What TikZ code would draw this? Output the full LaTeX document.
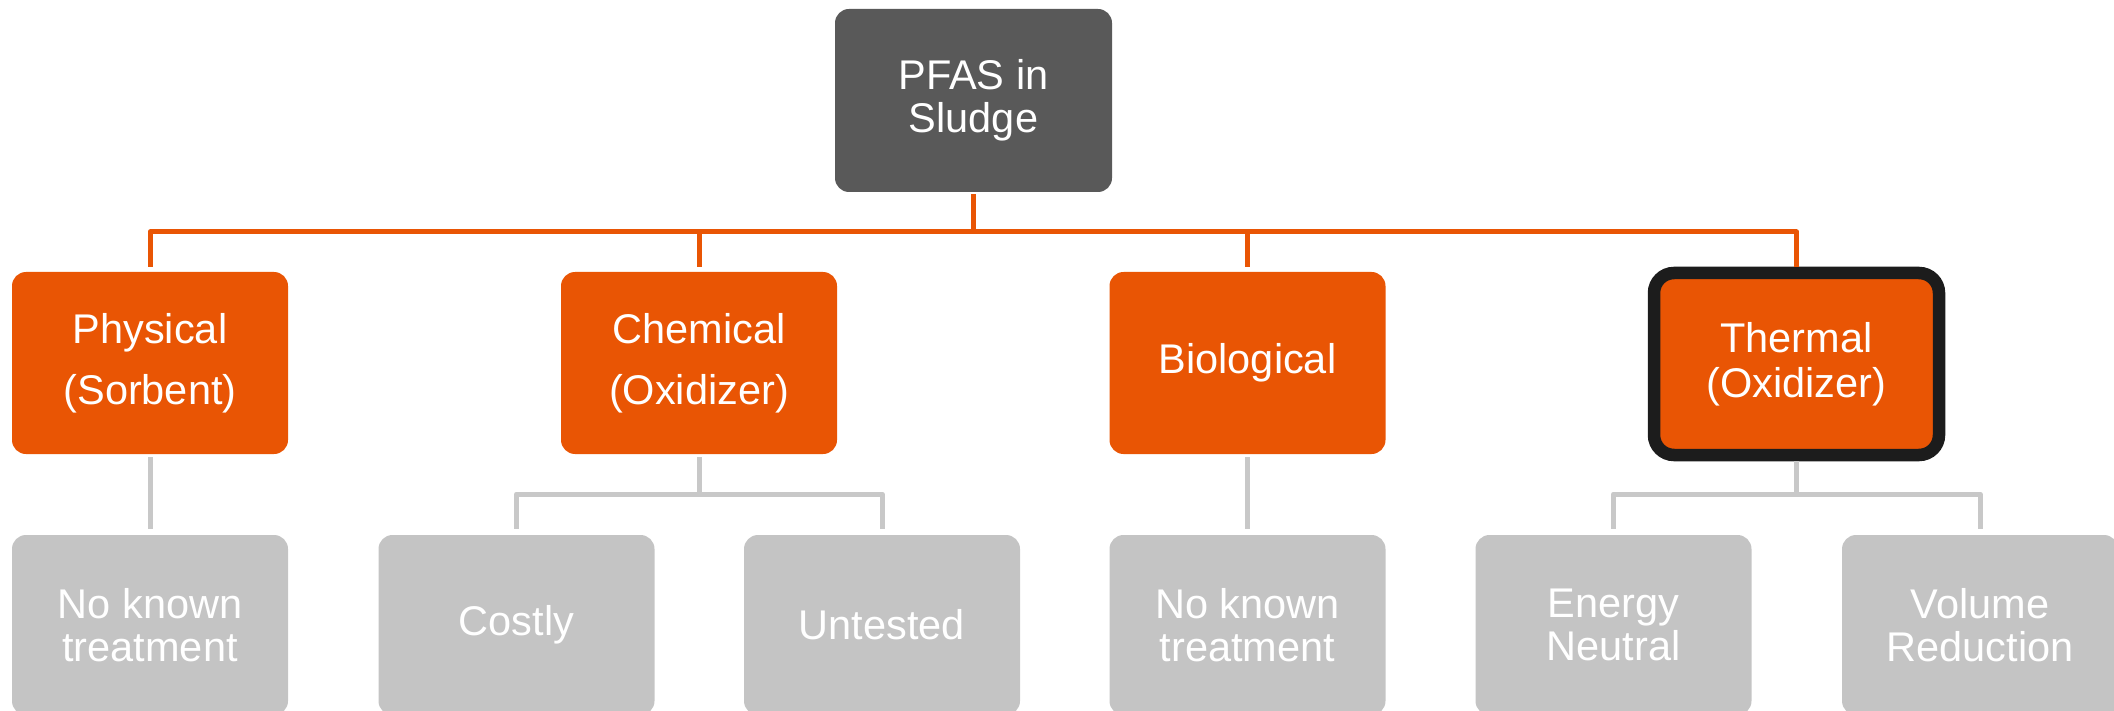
\documentclass[tikz,border=0pt]{standalone}
\usepackage{fontspec}
\setmainfont{Liberation Sans}
\definecolor{pfOrange}{HTML}{E95504}
\definecolor{pfDark}{HTML}{595959}
\definecolor{pfGrey}{HTML}{C4C4C4}
\definecolor{pfLine}{HTML}{C8C8C8}
\definecolor{pfBlack}{HTML}{1C1C1C}
\tikzset{
  basebox/.style={rectangle, rounded corners=14pt, inner sep=0pt, align=center,
    text=white, minimum width=276pt, minimum height=182pt},
  rootbox/.style={basebox, fill=pfDark, minimum width=277pt, minimum height=183pt,
    font=\fontsize{41.5}{43}\selectfont},
  obox/.style={basebox, fill=pfOrange, font=\fontsize{41.5}{61}\selectfont},
  tbox/.style={basebox, fill=pfOrange, draw=pfBlack, line width=12.5pt,
    rounded corners=20pt, minimum width=285pt, minimum height=182pt,
    font=\fontsize{41.5}{45}\selectfont},
  gbox/.style={basebox, fill=pfGrey, minimum height=180pt,
    font=\fontsize{41.5}{43}\selectfont},
  oline/.style={draw=pfOrange, line width=5pt, line join=round},
  gline/.style={draw=pfLine, line width=5pt, line join=round}
}
\begin{document}
\begin{tikzpicture}[x=1pt,y=-1pt]
\useasboundingbox (0,0) rectangle (2114,711);
% nodes
\node[rootbox] (root) at (973.5,100.5) {PFAS in\\Sludge};
\node[obox] (phys) at (150,363) {Physical\\(Sorbent)};
\node[obox] (chem) at (699,363) {Chemical\\(Oxidizer)};
\node[obox] (bio) at (1247.5,363) {Biological};
\node[tbox] (therm) at (1796.5,364) {Thermal\\(Oxidizer)};
\node[gbox] (nk1) at (150,625) {No known\\treatment};
\node[gbox] (costly) at (516.5,625) {Costly};
\node[gbox] (untested) at (882,625) {Untested};
\node[gbox] (nk2) at (1247.5,625) {No known\\treatment};
\node[gbox] (energy) at (1613.5,625) {Energy\\Neutral};
\node[gbox] (volume) at (1980,625) {Volume\\Reduction};
% bus coordinates
\coordinate (bus) at (0,232);
\coordinate (sub) at (0,494);
% orange connectors
\draw[oline] ([yshift=-2pt]root.south) -- (root.south |- bus);
\draw[oline] ([yshift=5pt]phys.north) -- (phys.north |- bus) -- (therm.north |- bus) -- (therm.north);
\draw[oline] (chem.north |- bus) -- ([yshift=5pt]chem.north);
\draw[oline] (bio.north |- bus) -- ([yshift=5pt]bio.north);
% grey connectors
\draw[gline] ([yshift=-3pt]phys.south) -- ([yshift=6pt]nk1.north);
\draw[gline] ([yshift=-3pt]chem.south) -- (chem.south |- sub);
\draw[gline] ([yshift=6pt]costly.north) -- (costly.north |- sub) -- (untested.north |- sub) -- ([yshift=6pt]untested.north);
\draw[gline] ([yshift=-3pt]bio.south) -- ([yshift=6pt]nk2.north);
\draw[gline] (therm.south) -- (therm.south |- sub);
\draw[gline] ([yshift=6pt]energy.north) -- (energy.north |- sub) -- (volume.north |- sub) -- ([yshift=6pt]volume.north);
\end{tikzpicture}
\end{document}
